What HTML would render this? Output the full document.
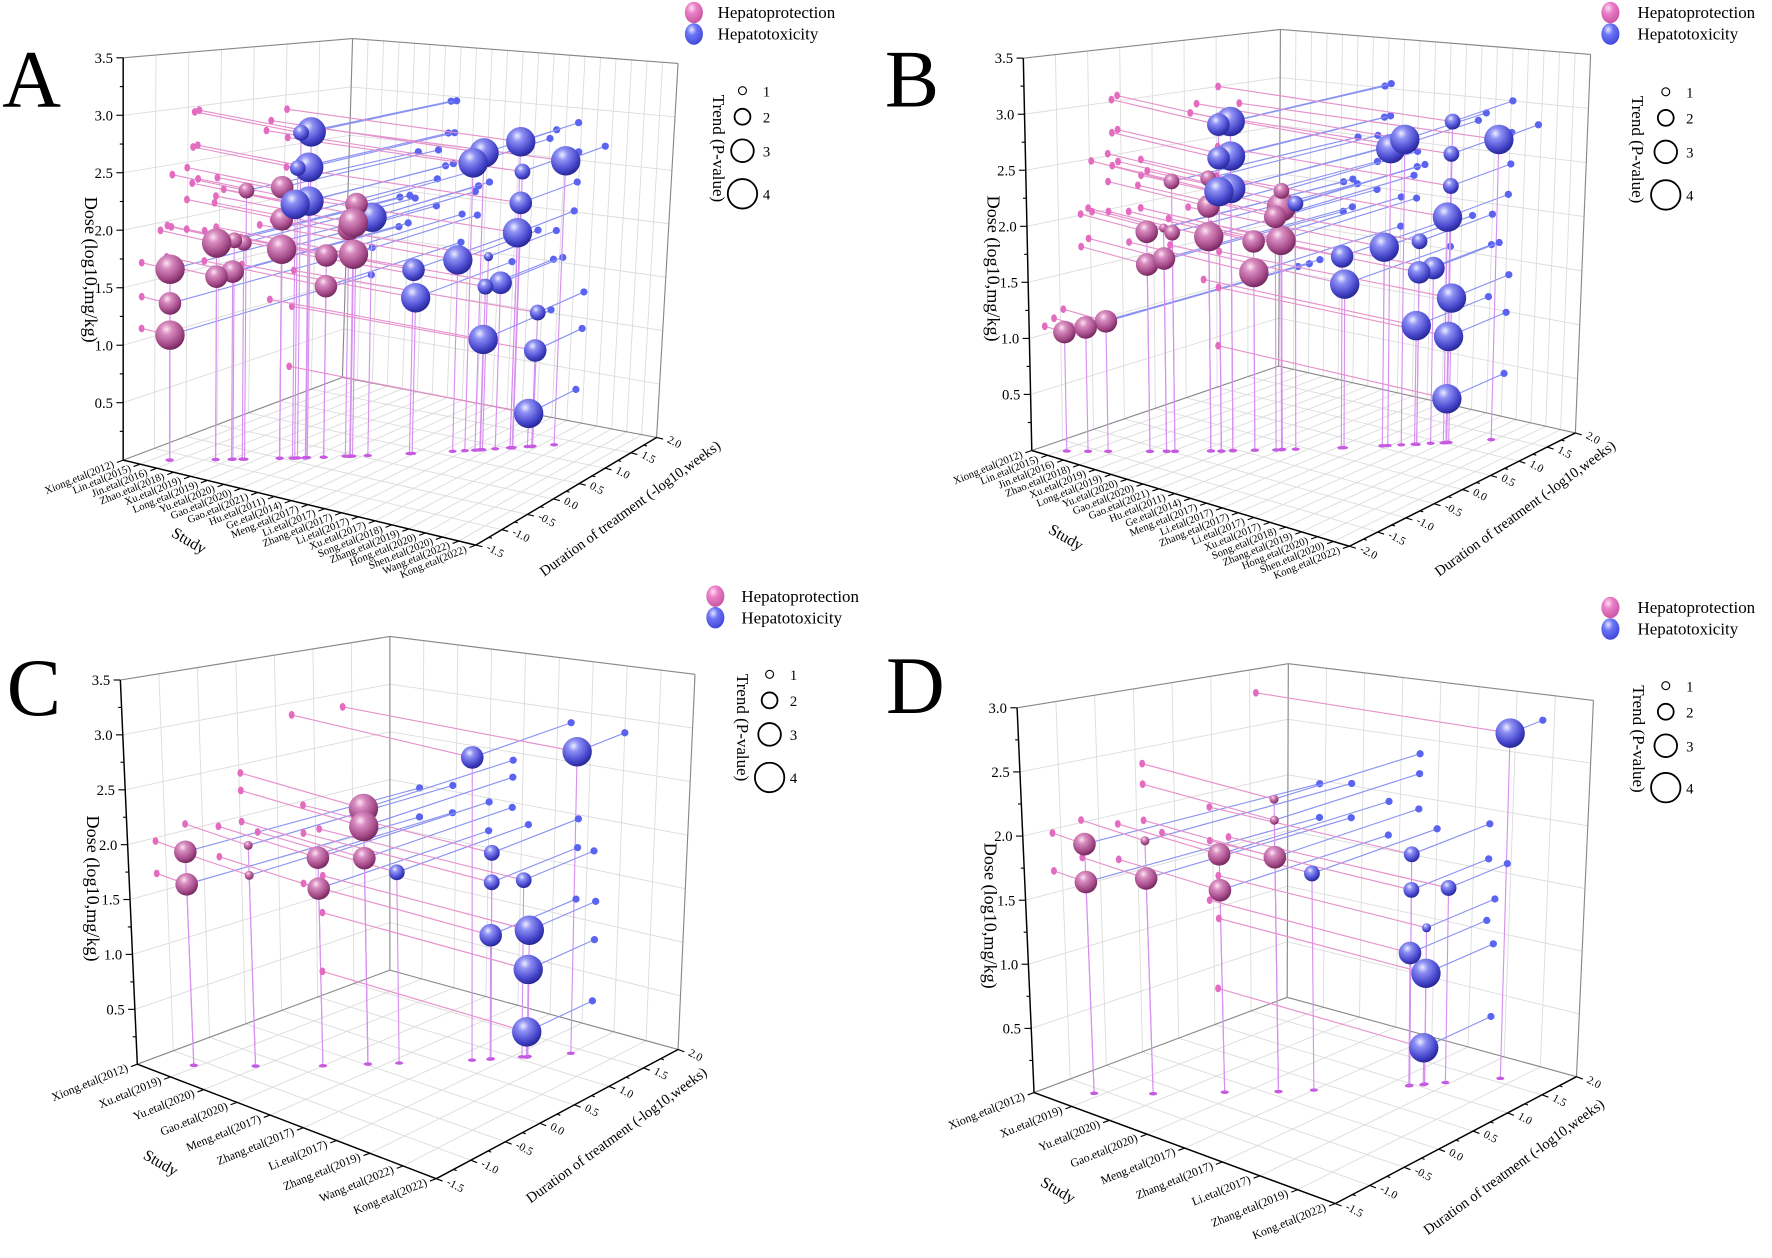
<!DOCTYPE html>
<html><head><meta charset="utf-8">
<style>
html,body{margin:0;padding:0;background:#fff;}
svg{display:block;font-family:"Liberation Serif",serif;}
</style></head>
<body>
<svg id="fig" width="1772" height="1258" viewBox="0 0 1568 1110" preserveAspectRatio="none" xmlns="http://www.w3.org/2000/svg">
<defs>
<radialGradient id="gP" cx="0.38" cy="0.3" r="0.75"><stop offset="0" stop-color="#fbe6f2"/><stop offset="0.25" stop-color="#d88cc0"/><stop offset="0.7" stop-color="#a44a88"/><stop offset="1" stop-color="#6a2055"/></radialGradient>
<radialGradient id="gB" cx="0.38" cy="0.3" r="0.75"><stop offset="0" stop-color="#eceeff"/><stop offset="0.25" stop-color="#8e90f4"/><stop offset="0.7" stop-color="#4646cc"/><stop offset="1" stop-color="#20208a"/></radialGradient>
<radialGradient id="gPL" cx="0.38" cy="0.3" r="0.75"><stop offset="0" stop-color="#fde0f2"/><stop offset="0.35" stop-color="#ea80c8"/><stop offset="1" stop-color="#c8509e"/></radialGradient>
<radialGradient id="gBL" cx="0.38" cy="0.3" r="0.75"><stop offset="0" stop-color="#e4e8ff"/><stop offset="0.35" stop-color="#6c76f6"/><stop offset="1" stop-color="#3e44d8"/></radialGradient>
</defs>
</svg>
<script>
// ---------- data ----------
const studiesA = ["Xiong.etal(2012)","Lin.etal(2015)","Jin.etal(2016)","Zhao.etal(2018)","Xu.etal(2019)","Long.etal(2019)","Yu.etal(2020)","Gao.etal(2020)","Gao.etal(2021)","Hu.etal(2011)","Ge.etal(2014)","Meng.etal(2017)","Li.etal(2017)","Zhang.etal(2017)","Li.etal(2017)","Xu.etal(2017)","Song.etal(2018)","Zhang.etal(2019)","Hong.etal(2020)","Shen.etal(2020)","Wang.etal(2022)","Kong.etal(2022)"];
const studiesB = ["Xiong.etal(2012)","Lin.etal(2015)","Jin.etal(2016)","Zhao.etal(2018)","Xu.etal(2019)","Long.etal(2019)","Yu.etal(2020)","Gao.etal(2020)","Gao.etal(2021)","Hu.etal(2011)","Ge.etal(2014)","Meng.etal(2017)","Li.etal(2017)","Zhang.etal(2017)","Li.etal(2017)","Xu.etal(2017)","Song.etal(2018)","Zhang.etal(2019)","Hong.etal(2020)","Shen.etal(2020)","Kong.etal(2022)"];
const studiesC = ["Xiong.etal(2012)","Xu.etal(2019)","Yu.etal(2020)","Gao.etal(2020)","Meng.etal(2017)","Zhang.etal(2017)","Li.etal(2017)","Zhang.etal(2019)","Wang.etal(2022)","Kong.etal(2022)"];
const studiesD = ["Xiong.etal(2012)","Xu.etal(2019)","Yu.etal(2020)","Gao.etal(2020)","Meng.etal(2017)","Zhang.etal(2017)","Li.etal(2017)","Zhang.etal(2019)","Kong.etal(2022)"];
const durTicksAC = [-1.5,-1.0,-0.5,0.0,0.5,1.0,1.5,2.0];
const durTicksB = [-2.0,-1.5,-1.0,-0.5,0.0,0.5,1.0,1.5,2.0];
const doseTicks35 = [0.5,1.0,1.5,2.0,2.5,3.0,3.5];
const doseTicks30 = [0.5,1.0,1.5,2.0,2.5,3.0];

const aStudy = [1.7,1.7,1.7,3.4,3.4,4.0,4.05,4.4,4.5,5.8,5.8,5.8,7.5,7.5,8.6,8.5,8.3,8.5, 6.5,6.85,6.4,6.8,6.3,6.8,9.2,10.8,10.9,12.5,13.0,13.4,14.8,14.9,14.9,14.8,13.7,13.6,14.2,16.6,15.7,15.7,13.6,15.5];
const aDur   = [-1.21,-1.21,-1.21,-0.92,-0.92,-0.82,-0.81,-0.75,-0.74,-0.51,-0.51,-0.51,-0.23,-0.23,-0.04,-0.06,-0.08,-0.05, -0.40,-0.33,-0.42,-0.35,-0.43,-0.34,0.06,0.34,0.36,0.63,0.71,0.78,1.02,1.04,1.03,1.02,0.83,0.82,0.92,1.32,1.18,1.16,0.81,1.14];
const aDose  = [1.68,1.38,1.10,1.93,1.63,1.68,1.96,1.94,2.41,2.45,2.16,1.89,1.84,1.56,2.31,2.14,2.08,1.85, 2.95,2.96,2.63,2.64,2.30,2.33,2.19,1.70,1.44,1.78,2.68,2.77,2.86,2.58,2.29,2.01,1.80,1.52,1.55,2.66,1.25,0.90,1.03,0.31];
const aTrend = [4,3,4,4,3,3,2,2,2,3,3,4,3,3,3,4,3,4, 2,4,2,4,4,4,4,3,4,4,4,4,4,2,3,4,1,2,3,4,2,3,4,4];
const aType  = [0,0,0,0,0,0,0,0,0,0,0,0,0,0,0,0,0,0, 1,1,1,1,1,1,1,1,1,1,1,1,1,1,1,1,1,1,1,1,1,1,1,1];

const bStudy = [1.24,2.0,2.7,4.2,4.2,4.8,4.8,5.1,5.1,6.4,6.4,6.4,8.0,8.0,9.0,9.0,8.8,9.0, 6.8,7.2,6.8,7.2,6.8,7.2,9.5,11.2,11.3,12.7,12.9,13.4,15.1,15.1,15.1,15.0,16.8,14.0,14.0,14.5,15.2,13.9,15.1,15.1];
const bDur   = [-1.75,-1.6,-1.45,-1.15,-1.15,-1.03,-1.03,-0.97,-0.97,-0.71,-0.71,-0.71,-0.39,-0.39,-0.2,-0.19,-0.24,-0.19, -0.64,-0.55,-0.64,-0.55,-0.64,-0.55,-0.09,0.24,0.26,0.55,0.59,0.69,1.03,1.02,1.02,1.0,1.36,0.8,0.8,0.91,1.04,0.79,1.03,1.02];
const bDose  = [1.07,1.12,1.18,2.01,1.71,1.77,2.05,2.01,2.48,1.98,2.26,2.52,1.94,1.65,1.95,2.26,2.17,2.41, 3.02,3.05,2.71,2.73,2.40,2.43,2.29,1.79,1.53,1.86,2.78,2.86,3.00,2.70,2.40,2.11,2.80,1.90,1.61,1.64,1.35,1.11,0.99,0.41];
const bTrend = [3,3,3,3,3,3,1,2,2,4,3,2,3,4,4,4,3,2, 3,4,3,4,4,4,2,3,4,4,4,4,2,2,2,4,4,2,3,3,4,4,4,4];
const bType  = [0,0,0,0,0,0,0,0,0,0,0,0,0,0,0,0,0,0, 1,1,1,1,1,1,1,1,1,1,1,1,1,1,1,1,1,1,1,1,1,1,1,1];

const cStudy = [0.9,0.9,1.9,1.9,3.0,3.0,3.7,3.7,3.7, 4.2,5.4,7.0,5.7,5.7,6.2,5.7,6.3,6.3,6.3];
const cDur   = [-1.13,-1.13,-0.73,-0.73,-0.29,-0.29,0.02,0.02,0.02, 0.23,0.71,1.38,0.84,0.84,1.05,0.83,1.09,1.08,1.07];
const cDose  = [1.97,1.67,2.06,1.78,1.96,1.67,2.42,2.25,1.95, 1.81,2.88,2.86,1.96,1.68,1.68,1.18,1.20,0.83,0.24];
const cTrend = [3,3,1,1,3,3,4,4,3, 2,3,4,2,2,2,3,4,4,4];
const cType  = [0,0,0,0,0,0,0,0,0, 1,1,1,1,1,1,1,1,1,1];

const dStudy = [0.85,0.85,1.7,1.7,2.7,2.7,3.5,3.5,3.5, 4.0,6.7,5.4,5.4,5.9,5.6,5.4,5.6,5.6];
const dDur   = [-1.11,-1.11,-0.73,-0.73,-0.25,-0.25,0.09,0.09,0.09, 0.33,1.58,0.96,0.96,1.21,1.07,0.95,1.07,1.05];
const dDose  = [1.97,1.67,2.02,1.72,1.92,1.63,2.37,2.20,1.90, 1.76,2.79,1.88,1.59,1.58,1.27,1.08,0.90,0.30];
const dTrend = [3,3,1,3,3,3,1,1,3, 2,4,2,2,2,1,3,4,4];
const dType  = [0,0,0,0,0,0,0,0,0, 1,1,1,1,1,1,1,1,1];

// ---------- layout ----------
const panels = [
 {key:'a', letter:'A', lp:[2,94], c:{A0:[109,406],A1:[421,481],A2:[581,386],A3:[303,333],B0:[109,51],B2:[600,56],B3:[312,34]},
  studies:studiesA, durTicks:durTicksAC, doseTicks:doseTicks35, doseMax:3.5,
  S:aStudy, D:aDur, V:aDose, T:aTrend, K:aType,
  leg:[614,11,635], trend:{x:657, ys:[80,103,133,171], tx:631, ty:131}, doseTitle:[75,238], studyTitle:[165,481], durTitle:[560,452], sfs:9.5},
 {key:'b', letter:'B', lp:[783,94], c:{A0:[913,397.5],A1:[1194,482],A2:[1394,382],A3:[1131.5,323],B0:[905.5,51.3],B2:[1407.5,48],B3:[1133,26]},
  studies:studiesB, durTicks:durTicksB, doseTicks:doseTicks35, doseMax:3.5,
  S:bStudy, D:bDur, V:bDose, T:bTrend, K:bType,
  leg:[1425,11,1449], trend:{x:1474, ys:[81,104,134,172], tx:1444, ty:132}, doseTitle:[874,237], studyTitle:[941,478], durTitle:[1352,452], sfs:9.5},
 {key:'c', letter:'C', lp:[6,631], c:{A0:[121.5,939],A1:[386,1040],A2:[600,926],A3:[345,856],B0:[106.5,600],B2:[615,595],B3:[345,561.6]},
  studies:studiesC, durTicks:durTicksAC, doseTicks:doseTicks35, doseMax:3.5,
  S:cStudy, D:cDur, V:cDose, T:cTrend, K:cType,
  leg:[633,526,656], trend:{x:681, ys:[595,618,648,686], tx:652, ty:642}, doseTitle:[77,784], studyTitle:[140,1030], durTitle:[548,1005], sfs:10.5},
 {key:'d', letter:'D', lp:[784,629], c:{A0:[915,964],A1:[1181.5,1062],A2:[1395,950],A3:[1139,880],B0:[900,624.5],B2:[1410,618],B3:[1140,585.6]},
  studies:studiesD, durTicks:durTicksAC, doseTicks:doseTicks30, doseMax:3.0,
  S:dStudy, D:dDur, V:dDose, T:dTrend, K:dType,
  leg:[1425,536,1449], trend:{x:1474, ys:[605,628,658,695], tx:1445, ty:652}, doseTitle:[871,808], studyTitle:[934,1054], durTitle:[1342,1033], sfs:10.5}
];
const sphereR = [0,4,7,10,13];
const NS = 'http://www.w3.org/2000/svg';
const svg = document.getElementById('fig');

function mk(tag, attrs, parent){
  const e = document.createElementNS(NS, tag);
  for (const k in attrs) e.setAttribute(k, attrs[k]);
  (parent||svg).appendChild(e);
  return e;
}
function lerp(a,b,t){return [a[0]+(b[0]-a[0])*t, a[1]+(b[1]-a[1])*t];}
function bil(p,q,r,s,u,v){
  return [ (1-u)*(1-v)*p[0]+u*(1-v)*q[0]+u*v*r[0]+(1-u)*v*s[0],
           (1-u)*(1-v)*p[1]+u*(1-v)*q[1]+u*v*r[1]+(1-u)*v*s[1] ];
}
function line(g,a,b,stroke,w){
  return mk('line',{x1:a[0].toFixed(1),y1:a[1].toFixed(1),x2:b[0].toFixed(1),y2:b[1].toFixed(1),stroke:stroke,'stroke-width':w},g);
}

panels.forEach(p=>{
  const c = p.c;
  c.B1 = [c.A1[0]+c.B0[0]-c.A0[0], c.A1[1]+c.B0[1]-c.A0[1]];
  const N = p.studies.length;
  const dmin = p.durTicks[0], dmax = p.durTicks[p.durTicks.length-1];
  const uS = s => s/(N-1);
  const vD = d => (d-dmin)/(dmax-dmin);
  const wV = x => x/p.doseMax;
  const P = (u,v,w) => lerp(bil(c.A0,c.A1,c.A2,c.A3,u,v), bil(c.B0,c.B1,c.B2,c.B3,u,v), w);

  const g = mk('g',{});
  
  

  // grid
  const grid = mk('g',{},g);
  
  
  const gc = '#dcdcdc';
  p.doseTicks.forEach(t=>{
    if (t>=p.doseMax) return;
    line(grid,P(0,0,wV(t)),P(0,1,wV(t)),gc,0.8);
    line(grid,P(0,1,wV(t)),P(1,1,wV(t)),gc,0.8);
  });
  p.durTicks.forEach(t=>{
    const v=vD(t); if(v<=0||v>=1) return;
    line(grid,P(0,v,0),P(0,v,1),gc,0.8);
    line(grid,P(0,v,0),P(1,v,0),gc,0.8);
  });
  p.studies.forEach((s,i)=>{
    const u=uS(i); if(u<=0||u>=1) return;
    line(grid,P(u,1,0),P(u,1,1),gc,0.8);
    line(grid,P(u,0,0),P(u,1,0),gc,0.8);
  });
  const ec='#888';
  line(grid,c.A3,c.B3,ec,1); line(grid,c.B0,c.B3,ec,1); line(grid,c.B3,c.B2,ec,1);
  line(grid,c.A2,c.B2,ec,1); line(grid,c.A0,c.A3,ec,1); line(grid,c.A3,c.A2,ec,1);

  // axes
  const ax = mk('g',{},g);
  
  
  const doseAxis = line(ax,c.A0,c.B0,'#000',1.3);
  
  
  const studyAxis = line(ax,c.A0,c.A1,'#000',1.3);
  
  
  const durAxis = line(ax,c.A1,c.A2,'#000',1.3);
  
  

  for(let t=0.25;t<=p.doseMax+1e-9;t+=0.25){
    const q=P(0,0,wV(t)); const major = Math.abs(t*2-Math.round(t*2))<1e-6;
    line(ax,q,[q[0]-(major?6:3),q[1]],'#000',1);
  }
  p.doseTicks.forEach(t=>{
    const q=P(0,0,wV(t));
    const tx = mk('text',{x:(q[0]-9).toFixed(1),y:(q[1]+4.5).toFixed(1),'text-anchor':'end','font-size':13},ax);
    
    
    tx.textContent = t.toFixed(1);
  });
  const outS = (()=>{const dx=c.A0[0]-c.A3[0], dy=c.A0[1]-c.A3[1]; const L=Math.hypot(dx,dy); return [dx/L,dy/L];})();
  p.studies.forEach((s,i)=>{
    const q=P(uS(i),0,0);
    line(ax,q,[q[0]+outS[0]*6,q[1]+outS[1]*6],'#000',1);
    const lx=q[0]+outS[0]*8, ly=q[1]+outS[1]*8+3;
    const tx = mk('text',{x:lx.toFixed(1),y:ly.toFixed(1),'text-anchor':'end','font-size':p.sfs,transform:`rotate(-22 ${lx.toFixed(1)} ${ly.toFixed(1)})`},ax);
    
    
    tx.textContent = s;
  });
  const outD = (()=>{const dx=c.A1[0]-c.A0[0], dy=c.A1[1]-c.A0[1]; const L=Math.hypot(dx,dy); return [dx/L,dy/L];})();
  for(let t=dmin;t<=dmax+1e-9;t+=0.25){
    const q=P(1,vD(t),0); const major=Math.abs(t*2-Math.round(t*2))<1e-6;
    line(ax,q,[q[0]+outD[0]*(major?6:3),q[1]+outD[1]*(major?6:3)],'#000',1);
  }
  p.durTicks.forEach(t=>{
    const q=P(1,vD(t),0);
    const lx=q[0]+outD[0]*8+1, ly=q[1]+outD[1]*8+2;
    const tx = mk('text',{x:lx.toFixed(1),y:ly.toFixed(1),'font-size':10,transform:`rotate(28 ${lx.toFixed(1)} ${ly.toFixed(1)})`},ax);
    
    
    tx.textContent = t.toFixed(1);
  });
  let t1 = mk('text',{x:p.doseTitle[0],y:p.doseTitle[1],'text-anchor':'middle','font-size':16,transform:`rotate(90 ${p.doseTitle[0]} ${p.doseTitle[1]})`},g);
  
  
  t1.textContent='Dose (log10,mg/kg)';
  let t2 = mk('text',{x:p.studyTitle[0],y:p.studyTitle[1],'text-anchor':'middle','font-size':14,transform:`rotate(30 ${p.studyTitle[0]} ${p.studyTitle[1]})`},g);
  
  
  t2.textContent='Study';
  let t3 = mk('text',{x:p.durTitle[0],y:p.durTitle[1],'text-anchor':'middle','font-size':13,transform:`rotate(-36 ${p.durTitle[0]} ${p.durTitle[1]})`},g);
  
  
  t3.textContent='Duration of treatment (-log10,weeks)';
  let lt = mk('text',{x:p.lp[0],y:p.lp[1],'font-size':72},g);
  
  
  lt.textContent=p.letter;

  const lines = mk('g',{},g);
  
  
  const n = p.S.length;
  for(let i=0;i<n;i++){
    const u=uS(p.S[i]), v=vD(p.D[i]), w=wV(p.V[i]);
    const s=P(u,v,w), L=P(0,v,w), R=P(u,1,w), F=P(u,v,0);
    const dl=line(lines,s,F,'#d690f0',1);
    
    
    const pl=line(lines,L,s,'#e690cc',1);
    
    
    const bl=line(lines,s,R,'#8a92f2',1);
    
    
    const ld=mk('ellipse',{cx:L[0].toFixed(1),cy:L[1].toFixed(1),rx:2.6,ry:3.4,fill:'#e46cc0'},lines);
    
    
    const rd=mk('circle',{cx:R[0].toFixed(1),cy:R[1].toFixed(1),r:3.2,fill:'#5a64f0'},lines);
    
    
    const fd=mk('ellipse',{cx:F[0].toFixed(1),cy:F[1].toFixed(1),rx:3.6,ry:1.5,fill:'#c65ae0'},lines);
    
    
  }
  const order=[...Array(n).keys()].sort((a,b)=>(uS(p.S[a])-vD(p.D[a]))-(uS(p.S[b])-vD(p.D[b])));
  const sg = mk('g',{},g);
  
  
  order.forEach(i=>{
    const q=P(uS(p.S[i]),vD(p.D[i]),wV(p.V[i]));
    const b=mk('circle',{cx:q[0].toFixed(1),cy:q[1].toFixed(1),r:sphereR[p.T[i]],fill:p.K[i]?'url(#gB)':'url(#gP)'},sg);
    
    
  });

  const lg = mk('g',{},g);
  
  
  const e1=mk('ellipse',{cx:p.leg[0],cy:p.leg[1],rx:8,ry:9.5,fill:'url(#gPL)'},lg);
  
  
  const l1=mk('text',{x:p.leg[2],y:p.leg[1]+5,'font-size':15},lg);
  
  
  l1.textContent='Hepatoprotection';
  const e2=mk('ellipse',{cx:p.leg[0],cy:p.leg[1]+19,rx:8,ry:9.5,fill:'url(#gBL)'},lg);
  
  
  const l2=mk('text',{x:p.leg[2],y:p.leg[1]+24,'font-size':15},lg);
  
  
  l2.textContent='Hepatotoxicity';

  const tg = mk('g',{},g);
  
  
  const tr=[3.5,7,10,13];
  p.trend.ys.forEach((y,j)=>{
    const ci=mk('circle',{cx:p.trend.x,cy:y,r:tr[j],fill:'none',stroke:'#000','stroke-width':j===0?1:1.6},tg);
    
    
    const tl=mk('text',{x:p.trend.x+18,y:y+5,'font-size':13},tg);
    
    
    tl.textContent=String(j+1);
  });
  const tt=mk('text',{x:p.trend.tx,y:p.trend.ty,'text-anchor':'middle','font-size':15,transform:`rotate(90 ${p.trend.tx} ${p.trend.ty})`},tg);
  
  
  tt.textContent='Trend (P-value)';
});
</script>
</body></html>
